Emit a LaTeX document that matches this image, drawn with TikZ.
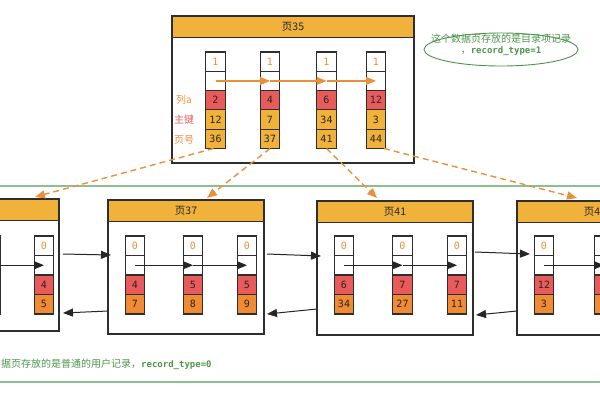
\documentclass[tikz,border=0pt]{standalone}
\usepackage{fontspec}
\setmainfont{DejaVu Sans}
\newfontfamily\cjk{Noto Sans CJK SC}
\newfontfamily\monof{DejaVu Sans Mono}
\usetikzlibrary{arrows.meta,calc,shapes.geometric}
\definecolor{hdrc}{HTML}{F0B23B}
\definecolor{redc}{HTML}{E95B5B}
\definecolor{orgc}{HTML}{F08A33}
\definecolor{txto}{HTML}{E8913A}
\definecolor{txtr}{HTML}{E06060}
\definecolor{grn}{HTML}{4E944E}
\definecolor{grnl}{HTML}{8DBE8D}
\definecolor{edgec}{HTML}{2E2E2E}
\tikzset{
  pagebody/.style={draw=edgec, line width=1.1pt, fill=white, anchor=north west, inner sep=0, outer sep=0},
  pagehdr/.style={draw=edgec, line width=1.1pt, fill=hdrc, anchor=north west, inner sep=0, outer sep=0, minimum height=21.5pt, font=\cjk\fontsize{10.5}{11}\selectfont, text=black!85},
  cellbox/.style={draw=edgec, line width=1.1pt, minimum width=19.5pt, minimum height=19.3pt, inner sep=0, outer sep=0, anchor=north, font=\monof\fontsize{10}{11}\selectfont, text=black!85},
  link/.style={-{Triangle[length=10pt,width=8pt]}, line width=1pt, draw=black!85},
  olink/.style={-{Triangle[length=10pt,width=8pt]}, line width=1.1pt, draw=txto},
  dlink/.style={-{Triangle[length=10pt,width=8pt]}, line width=1.4pt, draw=txto, dash pattern=on 6pt off 4pt},
  lbl/.style={font=\cjk\fontsize{10}{11}\selectfont, inner sep=0},
}
\newcommand\colT[5]{%
  \node[cellbox] (#1a) at (#2,52) {\textcolor{txto}{1}};
  \node[cellbox] (#1b) at (#1a.south) {};
  \node[cellbox,fill=redc] (#1c) at (#1b.south) {#3};
  \node[cellbox,fill=hdrc] (#1d) at (#1c.south) {#4};
  \node[cellbox,fill=hdrc] (#1e) at (#1d.south) {#5};
}
\newcommand\colB[5]{%
  \node[cellbox,minimum height=19.5pt] (#1a) at (#2,236) {\textcolor{txto}{#5}};
  \node[cellbox,minimum height=19.5pt] (#1b) at (#1a.south) {};
  \node[cellbox,minimum height=19.5pt,fill=redc] (#1c) at (#1b.south) {#3};
  \node[cellbox,minimum height=19.5pt,fill=orgc] (#1d) at (#1c.south) {#4};
}
\begin{document}
\begin{tikzpicture}[x=1pt,y=-1pt]
\useasboundingbox (0,0) rectangle (600,400);
\clip (0,0) rectangle (600,400);
\fill[white] (0,0) rectangle (600,400);

% green region of leaf pages
\draw[grnl, line width=1.4pt] (-5,186) rectangle (605,382);
\node[anchor=west, inner sep=0, text=grn] (leaftxt) at (1,364)
  {\cjk\fontsize{10}{11}\selectfont 据页存放的是普通的用户记录，\monof\bfseries\fontsize{9}{10}\selectfont record\_type=0};

% top page 35
\node[pagebody, minimum width=242pt, minimum height=147pt] (p35) at (172,16) {};
\node[pagehdr, minimum width=242pt] (p35h) at (172,16) {页35};
\colT{t1}{215.5}{2}{12}{36}
\colT{t2}{270}{4}{7}{37}
\colT{t3}{326.5}{6}{34}{41}
\colT{t4}{376}{12}{3}{44}
\node[lbl, text=txto] (la) at (184,100) {列a};
\node[lbl, text=txtr] (lb) at (184,120) {主键};
\node[lbl, text=txto] (lc) at (184,140) {页号};
\draw[olink] (t1b.center) -- (t2b.center);
\draw[olink] (t2b.center) -- (t3b.center);
\draw[olink] (t3b.center) -- (t4b.center);

% note ellipse
\node[ellipse, draw=grn, line width=0.9pt, minimum width=154pt, minimum height=33pt] (note) at (501,49.5) {};
\node[text=grn, align=center, inner sep=0] (notetxt) at (501,45)
  {\cjk\fontsize{10}{12}\selectfont 这个数据页存放的是目录项记录\\[-1pt]
   {\cjk ，}\monof\bfseries\fontsize{9}{12}\selectfont record\_type=1};

% left partial page
\node[pagebody, minimum width=160pt, minimum height=132pt] (pL) at (-101,199) {};
\node[pagehdr, minimum width=160pt] (pLh) at (-101,199) {};
\colB{l0}{-9.5}{}{}{}
\colB{l1}{44}{4}{5}{0}
\draw[link] (l0b.center) -- (l1b.center);

% page 37
\node[pagebody, minimum width=156pt, minimum height=134pt] (p37) at (108,200) {};
\node[pagehdr, minimum width=156pt] (p37h) at (108,200) {页37};
\colB{a1}{135}{4}{7}{0}
\colB{a2}{193}{5}{8}{0}
\colB{a3}{247}{5}{9}{0}
\draw[link] (a1b.center) -- (a2b.center);
\draw[link] (a2b.center) -- (a3b.center);

% page 41
\node[pagebody, minimum width=156pt, minimum height=134pt] (p41) at (317,201) {};
\node[pagehdr, minimum width=156pt] (p41h) at (317,201) {页41};
\colB{b1}{344}{6}{34}{0}
\colB{b2}{402.5}{7}{27}{0}
\colB{b3}{457}{7}{11}{0}
\draw[link] (b1b.center) -- (b2b.center);
\draw[link] (b2b.center) -- (b3b.center);

% page 44 (partial)
\node[pagebody, minimum width=156pt, minimum height=134pt] (p44) at (517,201) {};
\node[pagehdr, minimum width=156pt] (p44h) at (517,201) {页44};
\colB{c1}{544}{12}{3}{0}
\colB{c2}{604}{}{}{}
\draw[link] (c1b.center) -- (c2b.center);

% links between leaf pages
\draw[link] ($(pL.east)+(4,-11)$) -- ($(p37.west)+(3,-12)$);
\draw[link] ($(p37.west)+(0,44)$) -- ($(pL.east)+(4,48)$);
\draw[link] ($(p37.east)+(3,-13)$) -- ($(p41.west)+(4,-12)$);
\draw[link] ($(p41.west)+(0,41)$) -- ($(p37.east)+(3,47)$);
\draw[link] ($(p41.east)+(2,-16)$) -- ($(p44.west)+(13,-14)$);
\draw[link] ($(p44.west)+(0,43)$) -- ($(p41.east)+(3,47)$);

% directory entries to child pages
\draw[dlink] ($(t1e.south)+(-2,0)$) -- ($(pLh.north east)+(-24,-2)$);
\draw[dlink] ($(t2e.south)+(0,0)$) -- ($(p37h.north)+(21,-2)$);
\draw[dlink] ($(t3e.south)+(0,0)$) -- ($(p41h.north)+(-18,-3)$);
\draw[dlink] ($(t4e.south)+(8,0)$) -- ($(p44h.north west)+(60,-3)$);
\end{tikzpicture}
\end{document}
